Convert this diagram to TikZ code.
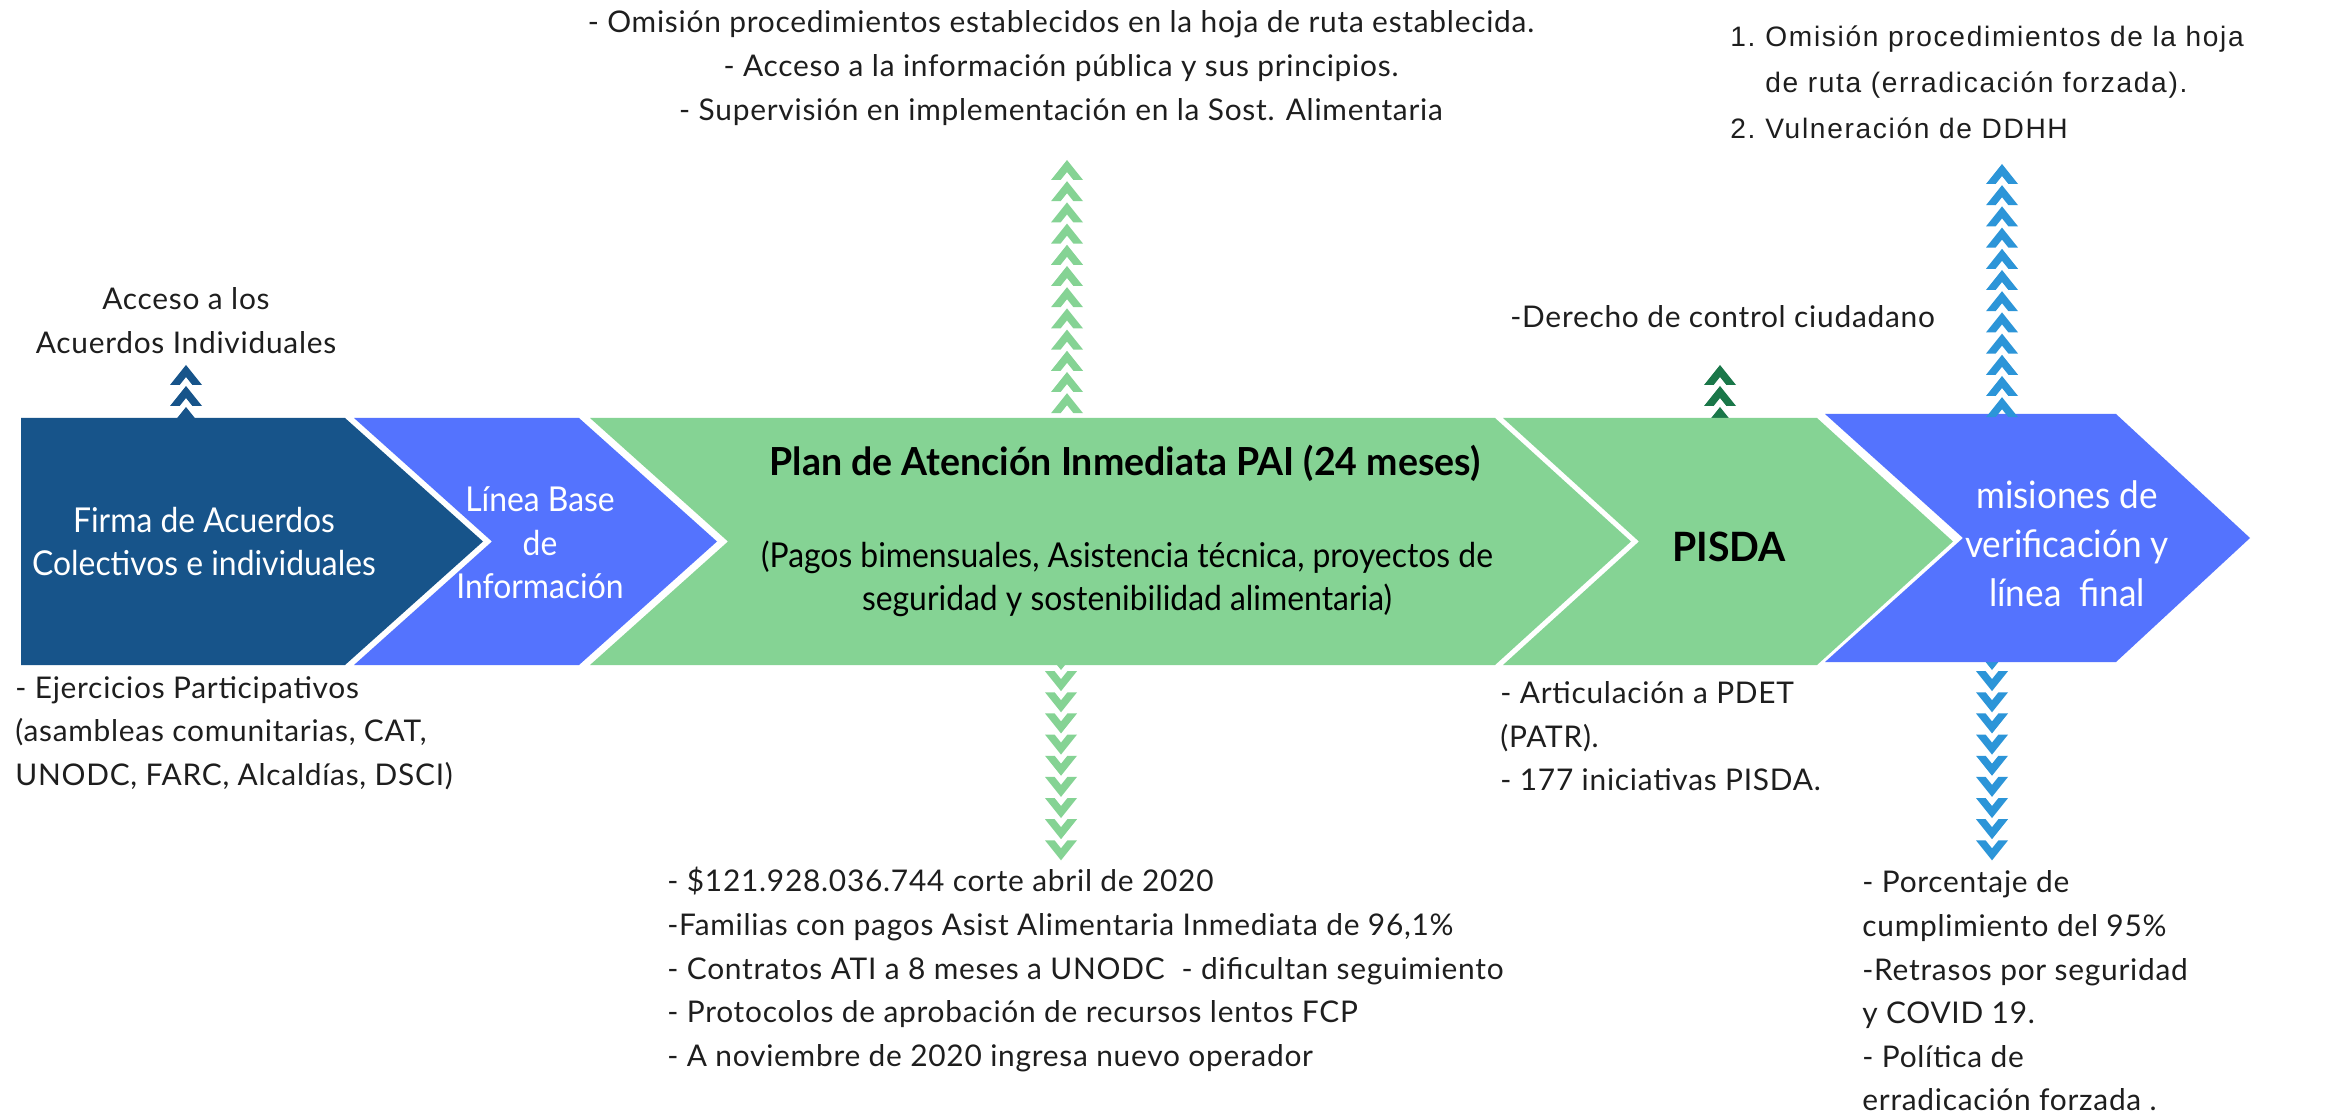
\documentclass[tikz,border=0pt]{standalone}
\usepackage{fontspec}
\setmainfont{Lato}[LetterSpace=2.5]
\newfontfamily\chevfont{Lato}[FakeStretch=0.93]
\newfontfamily\chevboldfont{Lato}[FakeStretch=0.97]
\newfontfamily\listfont{Liberation Sans}[LetterSpace=6.0]
\definecolor{dkblue}{HTML}{17548A}
\definecolor{mdblue}{HTML}{5473FE}
\definecolor{pgreen}{HTML}{85D394}
\definecolor{dkgreen}{HTML}{1A7749}
\definecolor{ltblue}{HTML}{2C95D8}
\definecolor{txt}{HTML}{1E1E1E}
\newcommand\upch[3]{\fill[#3] (#1,#2) -- ++(16,20) -- ++(-9.6,0) -- ++(-6.4,-8) -- ++(-6.4,8) -- ++(-9.6,0) -- cycle;}
\newcommand\dnch[3]{\fill[#3] (#1,#2) -- ++(16,-20) -- ++(-9.6,0) -- ++(-6.4,8) -- ++(-6.4,-8) -- ++(-9.6,0) -- cycle;}
\tikzset{
  outtext/.style={inner sep=0pt, text=txt, font=\fontsize{17}{24.8}\selectfont},
  chevtext/.style={inner sep=0pt, text=white, align=center, font=\chevfont\fontsize{19.5}{24.7}\selectfont},
  chevbold/.style={inner sep=0pt, text=black, font=\chevboldfont\bfseries\fontsize{22}{26}\selectfont},
}
\begin{document}
\begin{tikzpicture}[x=0.02cm,y=-0.02cm]
\useasboundingbox (0,0) rectangle (2333,1114);
\fill[white] (0,0) rectangle (2333,1114);
% arrows (behind band)
\foreach \k in {0,1,2} {\upch{186}{365+21*\k}{dkblue}}
\foreach \k in {0,...,11} {\upch{1067}{160+21.2*\k}{pgreen}}
\foreach \k in {0,1,2} {\upch{1720}{365+21*\k}{dkgreen}}
\foreach \k in {0,...,9} {\dnch{1061}{670+21.15*\k}{pgreen}}
\foreach \k in {0,...,9} {\dnch{1992}{670+21.15*\k}{ltblue}}
% chevrons
\fill[dkblue] (21,418) -- (345,418) -- (483,541.5) -- (345,665) -- (21,665) -- cycle;
\fill[mdblue] (354,418) -- (579,418) -- (717,541.5) -- (579,665) -- (354,665) -- (492,541.5) -- cycle;
\fill[pgreen] (590,418) -- (1495,418) -- (1631,541.5) -- (1495,665) -- (590,665) -- (728,541.5) -- cycle;
\fill[pgreen] (1503,418) -- (1817,418) -- (1953,541.5) -- (1817,665) -- (1503,665) -- (1639,541.5) -- cycle;
\fill[mdblue] (1825,414) -- (2116,414) -- (2250,538) -- (2116,662) -- (1825,662) -- (1963,538) -- cycle;
\foreach \k in {0,...,11} {\upch{2002}{164+21.2*\k}{ltblue}}
% chevron texts
\node[chevtext] (firma) at (204,541.5) {Firma de Acuerdos\\Colectivos e individuales};
\node[chevtext] (linea) at (540,543) {Línea Base\\de\\Información};
\node[chevbold] (pai) at (1125,463) {Plan de Atención Inmediata PAI (24 meses)};
\node[chevtext, text=black, font=\chevfont\fontsize{19.5}{24.5}\selectfont] (paisub) at (1127,578.5) {(Pagos bimensuales, Asistencia técnica, proyectos de\\seguridad y sostenibilidad alimentaria)};
\node[chevbold, font=\chevboldfont\bfseries\fontsize{23}{26}\selectfont] (pisda) at (1729,547) {PISDA};
\node[chevtext, font=\chevfont\fontsize{21.5}{27.9}\selectfont] (mision) at (2067,544) {misiones de\\verificación y\\línea\ \ final};
% outside texts
\node[outtext, align=center] (acceso) at (186,320.5) {Acceso a los\\Acuerdos Individuales};
\node[outtext, align=center] (topc) at (1061,68) {- Omisión procedimientos establecidos en la hoja de ruta establecida.\\- Acceso a la información pública y sus principios.\\- Supervisión en implementación en la Sost. Alimentaria};
\node[outtext, align=left, anchor=west, font=\listfont\fontsize{16}{26.2}\selectfont] (topr) at (1730,82) {\makebox[0.7cm][l]{1.}Omisión procedimientos de la hoja\\\hspace*{0.7cm}de ruta (erradicación forzada).\\\makebox[0.7cm][l]{2.}Vulneración de DDHH};
\node[outtext, anchor=west] (derecho) at (1510,317) {-Derecho de control ciudadano};
\node[outtext, align=left, anchor=west] (ejer) at (15,733) {- Ejercicios Participativos\\(asambleas comunitarias, CAT,\\UNODC, FARC, Alcaldías, DSCI)};
\node[outtext, align=left, anchor=west] (botc) at (667,969.5) {- \$121.928.036.744 corte abril de 2020\\-Familias con pagos Asist Alimentaria Inmediata de 96,1\%\\- Contratos ATI a 8 meses a UNODC\ \ - dificultan seguimiento\\- Protocolos de aprobación de recursos lentos FCP\\- A noviembre de 2020 ingresa nuevo operador};
\node[outtext, align=left, anchor=west] (pisdab) at (1500,736.5) {- Articulación a PDET\\(PATR).\\- 177 iniciativas PISDA.};
\node[outtext, align=left, anchor=west] (botr) at (1862,991) {- Porcentaje de\\cumplimiento del 95\%\\-Retrasos por seguridad\\y COVID 19.\\- Política de\\erradicación forzada .};
\end{tikzpicture}
\end{document}
